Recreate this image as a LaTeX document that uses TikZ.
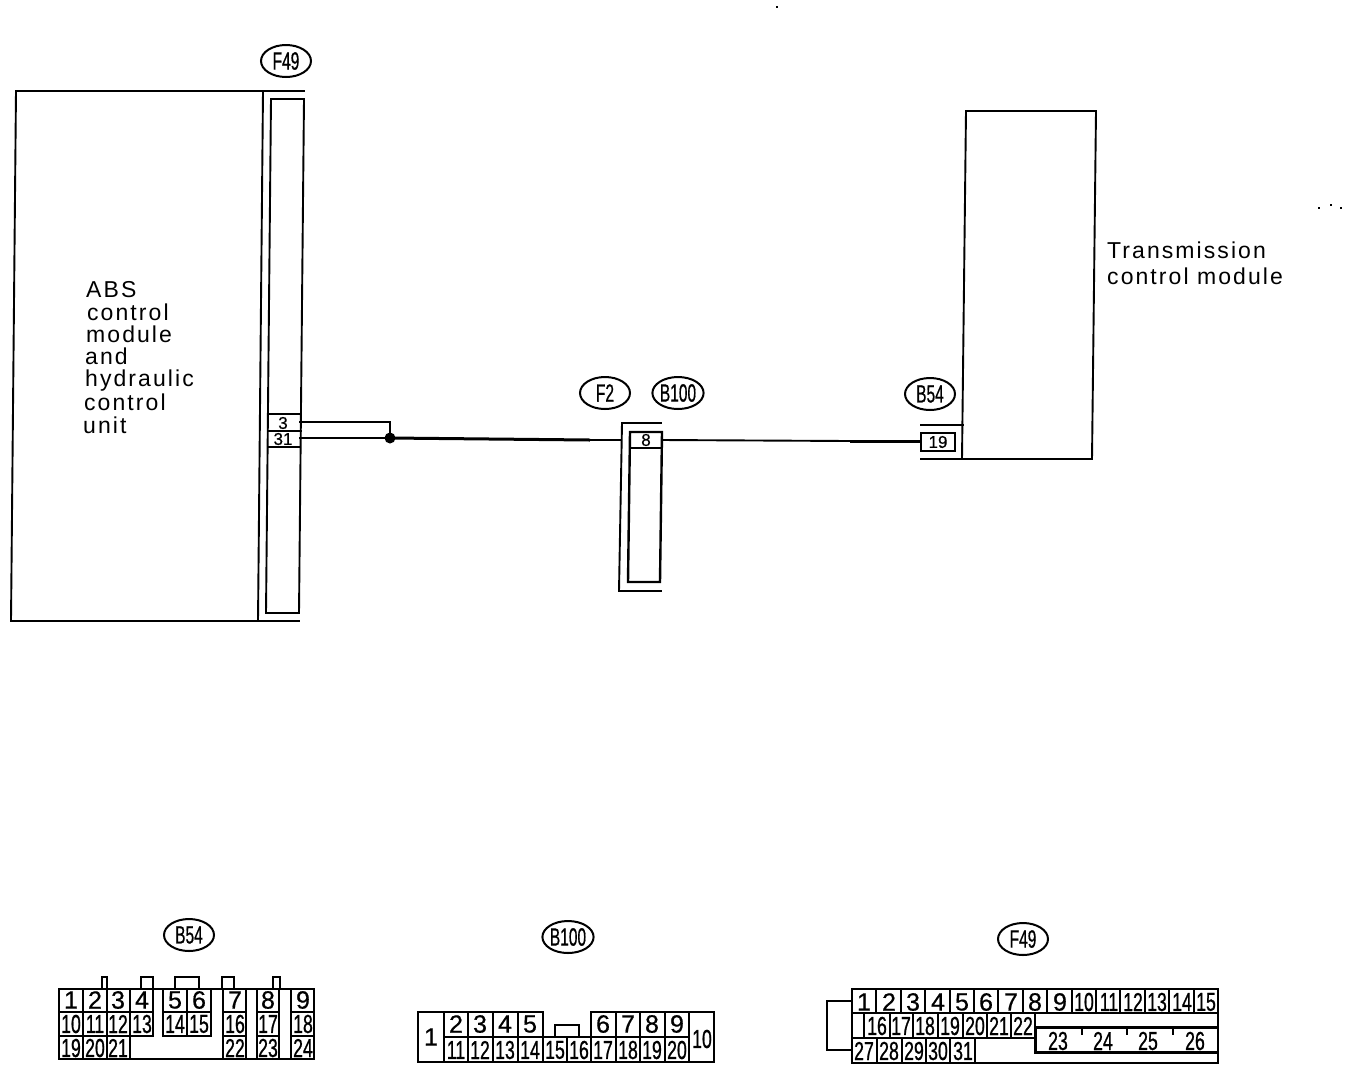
\documentclass[tikz,border=0pt]{standalone}
\usepackage{fontspec}
\setmainfont{Liberation Sans}
\newfontfamily\labfont[LetterSpace=9]{Liberation Sans}
\newfontfamily\onefont[FakeBold=0.6]{Liberation Sans}
\newfontfamily\narfont[FakeStretch=0.68,FakeBold=0.8]{Liberation Sans}
\newfontfamily\tagfont[FakeStretch=0.62,FakeBold=0.6]{Liberation Sans}
\tikzset{
 ln/.style={draw=black,line width=1.9pt,line cap=rect},
 hv/.style={draw=black,line width=3pt},
 txt/.style={anchor=base west,inner sep=0pt,font=\labfont\fontsize{23}{23}\selectfont},
 one/.style={inner sep=0pt,font=\onefont\fontsize{25}{25}\selectfont},
 two/.style={inner sep=0pt,font=\narfont\fontsize{26}{26}\selectfont},
 small/.style={inner sep=0pt,font=\onefont\fontsize{17}{17}\selectfont},
 tagn/.style={draw=black,line width=2pt,ellipse,minimum width=50pt,minimum height=32pt,inner sep=0pt,font=\tagfont\fontsize{25}{25}\selectfont},
 speck/.style={fill=black,inner sep=0pt,minimum size=1.5pt},
}
\usetikzlibrary{shapes.geometric}
\begin{document}
\begin{tikzpicture}[x=1pt,y=-1pt]
\useasboundingbox (0,0) rectangle (1360,1072);
\fill[white] (0,0) rectangle (1360,1072);
% specks
\node[speck] at (777,7) {};
\node[speck] at (1319,208) {};
\node[speck] at (1331,205) {};
\node[speck] at (1341,208) {};
% ABS unit
\draw[ln] (304,91) -- (16,91) -- (11,621) -- (299,621);
\draw[ln] (263,91) -- (258,621);
\draw[ln] (271,99) -- (304,99) -- (299,613) -- (266,613) -- cycle;
\draw[line width=2.6pt] (269,414) -- (301,414);
\draw[ln] (268,431) -- (301,431);
\draw[ln] (268,447) -- (300,447);
\node[small] (p3) at (283,423) {3};
\node[small] (p31) at (283,439) {31};
\node[txt] at (86,297) {ABS};
\node[txt] at (87,320) {control};
\node[txt] at (86,342) {module};
\node[txt] at (85,364) {and};
\node[txt] at (85,386) {hydraulic};
\node[txt] at (84,410) {control};
\node[txt] at (83,433) {unit};
\node[tagn] at (286,61) {F49};
% wires
\coordinate (w3) at (300,422);
\coordinate (w31) at (300,438);
\coordinate (j) at (390,438);
\coordinate (f2l) at (620,440);
\coordinate (f2r) at (662,440);
\coordinate (pinL) at (921,441);
\coordinate (thk) at (850,441);
\coordinate (thk2) at (590,440);
\draw[ln] (w3) -- (390,422) -- (j);
\draw[ln] (w31) -- (j);
\draw[line width=3pt] (j) -- (thk2);
\draw[ln] (thk2) -- (f2l);
\draw[ln] (f2r) -- (thk);
\draw[line width=3pt] (thk) -- (pinL);
\fill[black] (j) circle (5.5pt);
% F2/B100 connector
\draw[ln] (661,423) -- (622,423) -- (619,591) -- (661,591);
\draw[line width=2.4pt] (630,432) -- (662,432) -- (660,582) -- (628,582) -- cycle;
\draw[ln] (630,448) -- (661,448);
\node[small] (p8) at (646,440) {8};
\node[tagn] at (605,393) {F2};
\node[tagn] at (678,393) {B100};
% TCM
\draw[ln] (962,459) -- (966,111) -- (1096,111) -- (1092,459) -- (921,459);
\draw[ln] (921,425) -- (963,425);
\draw[line width=2.8pt] (921,433) rectangle (955,451);
\node[small] (p19) at (938,442) {19};
\node[tagn] at (930,394) {B54};
\node[txt] at (1107,258) {Transmission};
\node[txt] at (1107,284) {control module};
% ---- B54 connector
\node[tagn] at (189,935) {B54};
\draw[ln] (59,989) rectangle (314,1059);
\foreach \x in {83,107,130,223,246,257,279,291} \draw[ln] (\x,989) -- (\x,1059);
\foreach \x in {153,163,187,211} \draw[ln] (\x,989) -- (\x,1036);
\foreach \y in {1012,1036} {
 \draw[ln] (59,\y) -- (153,\y);
 \draw[ln] (163,\y) -- (211,\y);
 \draw[ln] (223,\y) -- (246,\y);
 \draw[ln] (257,\y) -- (279,\y);
 \draw[ln] (291,\y) -- (314,\y);
}
\draw[ln] (102,989) -- (102,977) -- (107,977) -- (107,989);
\draw[ln] (141,989) -- (141,977) -- (153,977) -- (153,989);
\draw[ln] (175,989) -- (175,977) -- (199,977) -- (199,989);
\draw[ln] (222,989) -- (222,977) -- (234,977) -- (234,989);
\draw[ln] (273,989) -- (273,977) -- (280,977) -- (280,989);
\foreach \t/\x in {1/71,2/95,3/118,4/142,5/175,6/199,7/235,8/268,9/303} \node[one] at (\x,1000) {\t};
\foreach \t/\x in {10/71,11/95,12/118,13/142,14/175,15/199,16/235,17/268,18/303} \node[two] at (\x,1024) {\t};
\foreach \t/\x in {19/71,20/95,21/118,22/235,23/268,24/303} \node[two] at (\x,1048) {\t};
% ---- B100 connector
\node[tagn] at (568,937) {B100};
\draw[ln] (591,1012) -- (714,1012) -- (714,1062) -- (418,1062) -- (418,1012) -- (543,1012);
\draw[ln] (444,1037) -- (689,1037);
\foreach \x in {444,468,493,518,591,616,640,665,689} \draw[ln] (\x,1012) -- (\x,1062);
\draw[ln] (543,1012) -- (543,1062);
\draw[ln] (567,1037) -- (567,1062);
\draw[ln] (555,1037) -- (555,1025) -- (579,1025) -- (579,1037);
\node[one] at (431,1037) {1};
\node[two] at (702,1039) {10};
\foreach \t/\x in {2/456,3/480,4/505,5/530,6/603,7/628,8/652,9/677} \node[one] at (\x,1024) {\t};
\foreach \t/\x in {11/456,12/480,13/505,14/530,15/555,16/579,17/603,18/628,19/652,20/677} \node[two] at (\x,1050) {\t};
% ---- F49 connector
\node[tagn] at (1023,939) {F49};
\draw[ln] (852,989) rectangle (1218,1063);
\draw[ln] (852,1013) -- (1218,1013);
\foreach \i in {1,...,14} \draw[ln] ({852+24.4*\i},989) -- ({852+24.4*\i},1013);
\draw[ln] (852,1038) -- (1035,1038);
\foreach \x in {864,890,913,938,963,987,1011,1035} \draw[ln] (\x,1013) -- (\x,1038);
\foreach \x in {877,902,926,950,975} \draw[ln] (\x,1038) -- (\x,1063);
\draw[line width=3pt] (1035,1027) -- (1218,1027);
\draw[line width=3pt] (1035,1027) -- (1035,1052) -- (1218,1052);
\foreach \x in {1082,1127,1173} \draw[ln] (\x,1027) -- (\x,1034);
\draw[ln] (852,1001) -- (827,1001) -- (827,1050) -- (852,1050);
\foreach \t/\x in {1/864,2/889,3/913,4/938,5/962,6/986,7/1011,8/1035,9/1060} \node[one] at (\x,1002) {\t};
\foreach \t/\x in {10/1084,11/1109,12/1133,13/1157,14/1182,15/1206} \node[two] at (\x,1002) {\t};
\foreach \t/\x in {16/877,17/901,18/925,19/950,20/975,21/999,22/1023} \node[two] at (\x,1026) {\t};
\foreach \t/\x in {27/864,28/889,29/914,30/938,31/963} \node[two] at (\x,1051) {\t};
\foreach \t/\x in {23/1058,24/1103,25/1148,26/1195} \node[two] at (\x,1041) {\t};
\end{tikzpicture}
\end{document}
